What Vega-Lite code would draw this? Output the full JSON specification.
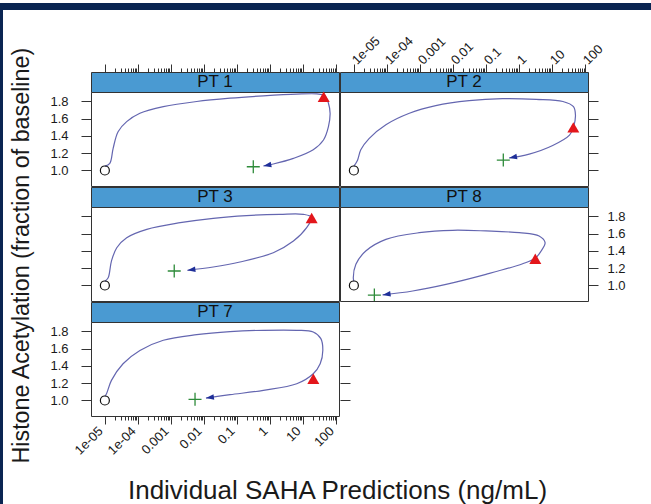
{
  "$schema": "https://vega.github.io/schema/vega-lite/v6.json",
  "background": "white",
  "padding": 0,
  "spacing": 0,
  "config": {
    "view": {"stroke": null},
    "font": "Liberation Sans",
    "title": {"font": "Liberation Sans", "fontWeight": "normal", "color": "#1a1a1a"},
    "axis": {
      "labelFont": "Liberation Sans",
      "titleFont": "Liberation Sans",
      "domain": false,
      "grid": false,
      "tickColor": "#333333",
      "tickWidth": 1,
      "labelColor": "#1a1a1a",
      "labelFontSize": 13,
      "titleColor": "#1a1a1a",
      "titleFontWeight": "normal",
      "labelOverlap": false,
      "labelFlush": false
    }
  },
  "datasets": {
    "curve": [
      {"pt": "PT 1", "i": 0, "conc": 0.00001, "acet": 1.05},
      {"pt": "PT 1", "i": 1, "conc": 0.0000141, "acet": 1.083},
      {"pt": "PT 1", "i": 2, "conc": 0.0000178, "acet": 1.257},
      {"pt": "PT 1", "i": 3, "conc": 0.0000251, "acet": 1.45},
      {"pt": "PT 1", "i": 4, "conc": 0.0000457, "acet": 1.566},
      {"pt": "PT 1", "i": 5, "conc": 0.000115, "acet": 1.663},
      {"pt": "PT 1", "i": 6, "conc": 0.000589, "acet": 1.74},
      {"pt": "PT 1", "i": 7, "conc": 0.00603, "acet": 1.8},
      {"pt": "PT 1", "i": 8, "conc": 0.0617, "acet": 1.838},
      {"pt": "PT 1", "i": 9, "conc": 0.631, "acet": 1.865},
      {"pt": "PT 1", "i": 10, "conc": 6.46, "acet": 1.885},
      {"pt": "PT 1", "i": 11, "conc": 26.3, "acet": 1.888},
      {"pt": "PT 1", "i": 12, "conc": 44.7, "acet": 1.87},
      {"pt": "PT 1", "i": 13, "conc": 58.9, "acet": 1.78},
      {"pt": "PT 1", "i": 14, "conc": 66.1, "acet": 1.663},
      {"pt": "PT 1", "i": 15, "conc": 58.9, "acet": 1.508},
      {"pt": "PT 1", "i": 16, "conc": 41.7, "acet": 1.353},
      {"pt": "PT 1", "i": 17, "conc": 20.4, "acet": 1.24},
      {"pt": "PT 1", "i": 18, "conc": 5.13, "acet": 1.14},
      {"pt": "PT 1", "i": 19, "conc": 1.26, "acet": 1.075},
      {"pt": "PT 1", "i": 20, "conc": 0.631, "acet": 1.052},

      {"pt": "PT 2", "i": 0, "conc": 0.00001, "acet": 1.05},
      {"pt": "PT 2", "i": 1, "conc": 0.0000129, "acet": 1.12},
      {"pt": "PT 2", "i": 2, "conc": 0.0000162, "acet": 1.24},
      {"pt": "PT 2", "i": 3, "conc": 0.0000288, "acet": 1.37},
      {"pt": "PT 2", "i": 4, "conc": 0.0000933, "acet": 1.53},
      {"pt": "PT 2", "i": 5, "conc": 0.000479, "acet": 1.663},
      {"pt": "PT 2", "i": 6, "conc": 0.00302, "acet": 1.752},
      {"pt": "PT 2", "i": 7, "conc": 0.0309, "acet": 1.81},
      {"pt": "PT 2", "i": 8, "conc": 0.316, "acet": 1.833},
      {"pt": "PT 2", "i": 9, "conc": 3.31, "acet": 1.825},
      {"pt": "PT 2", "i": 10, "conc": 21.4, "acet": 1.8},
      {"pt": "PT 2", "i": 11, "conc": 44.7, "acet": 1.74},
      {"pt": "PT 2", "i": 12, "conc": 51.3, "acet": 1.64},
      {"pt": "PT 2", "i": 13, "conc": 44.7, "acet": 1.5},
      {"pt": "PT 2", "i": 14, "conc": 33.9, "acet": 1.41},
      {"pt": "PT 2", "i": 15, "conc": 10.5, "acet": 1.29},
      {"pt": "PT 2", "i": 16, "conc": 2.04, "acet": 1.19},
      {"pt": "PT 2", "i": 17, "conc": 0.501, "acet": 1.145},

      {"pt": "PT 3", "i": 0, "conc": 0.00001, "acet": 1.05},
      {"pt": "PT 3", "i": 1, "conc": 0.0000126, "acet": 1.09},
      {"pt": "PT 3", "i": 2, "conc": 0.0000158, "acet": 1.283},
      {"pt": "PT 3", "i": 3, "conc": 0.0000229, "acet": 1.438},
      {"pt": "PT 3", "i": 4, "conc": 0.0000457, "acet": 1.554},
      {"pt": "PT 3", "i": 5, "conc": 0.000186, "acet": 1.651},
      {"pt": "PT 3", "i": 6, "conc": 0.00191, "acet": 1.728},
      {"pt": "PT 3", "i": 7, "conc": 0.0191, "acet": 1.779},
      {"pt": "PT 3", "i": 8, "conc": 0.195, "acet": 1.81},
      {"pt": "PT 3", "i": 9, "conc": 2.0, "acet": 1.825},
      {"pt": "PT 3", "i": 10, "conc": 10.2, "acet": 1.825},
      {"pt": "PT 3", "i": 11, "conc": 18.2, "acet": 1.79},
      {"pt": "PT 3", "i": 12, "conc": 12.9, "acet": 1.67},
      {"pt": "PT 3", "i": 13, "conc": 5.13, "acet": 1.515},
      {"pt": "PT 3", "i": 14, "conc": 1.26, "acet": 1.38},
      {"pt": "PT 3", "i": 15, "conc": 0.123, "acet": 1.272},
      {"pt": "PT 3", "i": 16, "conc": 0.0191, "acet": 1.214},
      {"pt": "PT 3", "i": 17, "conc": 0.00316, "acet": 1.176},

      {"pt": "PT 8", "i": 0, "conc": 0.00001, "acet": 1.05},
      {"pt": "PT 8", "i": 1, "conc": 0.0000096, "acet": 1.09},
      {"pt": "PT 8", "i": 2, "conc": 0.0000115, "acet": 1.245},
      {"pt": "PT 8", "i": 3, "conc": 0.0000229, "acet": 1.4},
      {"pt": "PT 8", "i": 4, "conc": 0.0000933, "acet": 1.535},
      {"pt": "PT 8", "i": 5, "conc": 0.000955, "acet": 1.612},
      {"pt": "PT 8", "i": 6, "conc": 0.00977, "acet": 1.64},
      {"pt": "PT 8", "i": 7, "conc": 0.1, "acet": 1.632},
      {"pt": "PT 8", "i": 8, "conc": 1.02, "acet": 1.612},
      {"pt": "PT 8", "i": 9, "conc": 4.07, "acet": 1.574},
      {"pt": "PT 8", "i": 10, "conc": 6.17, "acet": 1.496},
      {"pt": "PT 8", "i": 11, "conc": 4.68, "acet": 1.4},
      {"pt": "PT 8", "i": 12, "conc": 3.09, "acet": 1.315},
      {"pt": "PT 8", "i": 13, "conc": 1.29, "acet": 1.252},
      {"pt": "PT 8", "i": 14, "conc": 0.1, "acet": 1.129},
      {"pt": "PT 8", "i": 15, "conc": 0.00617, "acet": 1.013},
      {"pt": "PT 8", "i": 16, "conc": 0.000603, "acet": 0.936},
      {"pt": "PT 8", "i": 17, "conc": 0.0000741, "acet": 0.89},

      {"pt": "PT 7", "i": 0, "conc": 0.00001, "acet": 1.05},
      {"pt": "PT 7", "i": 1, "conc": 0.0000112, "acet": 1.078},
      {"pt": "PT 7", "i": 2, "conc": 0.0000158, "acet": 1.233},
      {"pt": "PT 7", "i": 3, "conc": 0.0000355, "acet": 1.426},
      {"pt": "PT 7", "i": 4, "conc": 0.000115, "acet": 1.58},
      {"pt": "PT 7", "i": 5, "conc": 0.000589, "acet": 1.698},
      {"pt": "PT 7", "i": 6, "conc": 0.00603, "acet": 1.763},
      {"pt": "PT 7", "i": 7, "conc": 0.0617, "acet": 1.798},
      {"pt": "PT 7", "i": 8, "conc": 0.631, "acet": 1.814},
      {"pt": "PT 7", "i": 9, "conc": 6.46, "acet": 1.814},
      {"pt": "PT 7", "i": 10, "conc": 20.4, "acet": 1.794},
      {"pt": "PT 7", "i": 11, "conc": 34.7, "acet": 1.717},
      {"pt": "PT 7", "i": 12, "conc": 39.8, "acet": 1.58},
      {"pt": "PT 7", "i": 13, "conc": 33.1, "acet": 1.426},
      {"pt": "PT 7", "i": 14, "conc": 20.4, "acet": 1.31},
      {"pt": "PT 7", "i": 15, "conc": 6.46, "acet": 1.194},
      {"pt": "PT 7", "i": 16, "conc": 0.631, "acet": 1.117},
      {"pt": "PT 7", "i": 17, "conc": 0.0617, "acet": 1.067},
      {"pt": "PT 7", "i": 18, "conc": 0.0115, "acet": 1.028}
    ],
    "marks": [
      {"pt": "PT 1", "kind": "start", "conc": 0.00001, "acet": 1.0},
      {"pt": "PT 1", "kind": "peak", "conc": 42.3, "acet": 1.855},
      {"pt": "PT 1", "kind": "end", "conc": 0.312, "acet": 1.043},
      {"pt": "PT 1", "kind": "arrow", "conc": 0.631, "acet": 1.052},
      {"pt": "PT 2", "kind": "start", "conc": 0.00001, "acet": 1.0},
      {"pt": "PT 2", "kind": "peak", "conc": 44.2, "acet": 1.5},
      {"pt": "PT 2", "kind": "end", "conc": 0.335, "acet": 1.121},
      {"pt": "PT 2", "kind": "arrow", "conc": 0.501, "acet": 1.145},
      {"pt": "PT 3", "kind": "start", "conc": 0.00001, "acet": 1.0},
      {"pt": "PT 3", "kind": "peak", "conc": 18.3, "acet": 1.782},
      {"pt": "PT 3", "kind": "end", "conc": 0.00126, "acet": 1.168},
      {"pt": "PT 3", "kind": "arrow", "conc": 0.00316, "acet": 1.176},
      {"pt": "PT 8", "kind": "start", "conc": 0.00001, "acet": 1.0},
      {"pt": "PT 8", "kind": "peak", "conc": 3.12, "acet": 1.31},
      {"pt": "PT 8", "kind": "end", "conc": 0.0000417, "acet": 0.889},
      {"pt": "PT 8", "kind": "arrow", "conc": 0.0000741, "acet": 0.89},
      {"pt": "PT 7", "kind": "start", "conc": 0.00001, "acet": 1.0},
      {"pt": "PT 7", "kind": "peak", "conc": 20.5, "acet": 1.252},
      {"pt": "PT 7", "kind": "end", "conc": 0.00537, "acet": 1.013},
      {"pt": "PT 7", "kind": "arrow", "conc": 0.0115, "acet": 1.028}
    ]
  },
  "hconcat": [
    {
      "width": 3, "height": 504,
      "view": {"fill": "#0a2552", "stroke": null},
      "data": {"values": [{}]},
      "mark": {"type": "text"},
      "encoding": {"text": {"value": ""}}
    },
    {
      "spacing": 21,
      "vconcat": [
        {
          "width": 648, "height": 7,
          "view": {"fill": "#0a2552", "stroke": null},
          "data": {"values": [{}]},
          "mark": {"type": "text"},
          "encoding": {"text": {"value": ""}}
        },
        {
          "spacing": 6,
          "hconcat": [
            {
              "width": 1, "height": 1,
              "data": {"values": [{}]},
              "mark": {"type": "text"},
              "encoding": {"text": {"value": ""}}
            },
            {
              "title": {"text": "Histone Acetylation (fraction of baseline)", "orient": "left", "anchor": "middle", "fontSize": 23.3, "offset": 15, "dx": 13},
              "vconcat": [
                {
                  "title": {"text": "Individual SAHA Predictions (ng/mL)", "orient": "bottom", "anchor": "middle", "fontSize": 26, "offset": 20},
                  "columns": 2,
                  "spacing": {"row": -2, "column": -8},
                  "concat": [
                    {
                      "spacing": 0, "bounds": "flush",
                      "vconcat": [
                        {
                          "width": 248, "height": 20,
                          "view": {"fill": "#4a9ad2", "stroke": "#333333"},
                          "data": {"values": [{"label": "PT 1"}]},
                          "mark": {"type": "text", "fontSize": 17, "font": "Liberation Sans", "color": "#111111", "baseline": "middle", "align": "center"},
                          "encoding": {
                            "text": {"field": "label"},
                            "x": {"datum": 0.0216, "type": "quantitative", "scale": {"type": "log", "domain": [0.0000038, 123], "nice": false},
                              "axis": {"orient": "top", "title": null, "labels": false,
                                "values": [0.00001,0.00002,0.00003,0.00004,0.00005,0.00006,0.00007,0.00008,0.00009,0.0001,0.0002,0.0003,0.0004,0.0005,0.0006,0.0007,0.0008,0.0009,0.001,0.002,0.003,0.004,0.005,0.006,0.007,0.008,0.009,0.01,0.02,0.03,0.04,0.05,0.06,0.07,0.08,0.09,0.1,0.2,0.3,0.4,0.5,0.6,0.7,0.8,0.9,1,2,3,4,5,6,7,8,9,10,20,30,40,50,60,70,80,90,100],
                                "tickSize": {"condition": {"test": "abs(log(datum.value)/LN10 - round(log(datum.value)/LN10)) < 0.001", "value": 8}, "value": 4}}}
                          }
                        },
                        {
                          "width": 248, "height": 94,
                          "view": {"fill": "white", "stroke": "#333333"},
                          "encoding": {
                            "x": {"field": "conc", "type": "quantitative", "scale": {"type": "log", "domain": [0.0000038, 123], "nice": false}, "axis": null},
                            "y": {"field": "acet", "type": "quantitative", "scale": {"domain": [0.82, 1.91], "nice": false, "zero": false},
                              "axis": {"orient": "left", "title": null, "values": [1, 1.2, 1.4, 1.6, 1.8], "format": ".1f", "tickSize": 10, "labelPadding": 13}}
                          },
                          "layer": [
                            {"data": {"name": "curve"}, "transform": [{"filter": "datum.pt == 'PT 1'"}], "mark": {"type": "line", "interpolate": "catmull-rom", "color": "#6466b0", "strokeWidth": 1.2}, "encoding": {"order": {"field": "i", "type": "quantitative"}}},
                            {"data": {"name": "marks"}, "transform": [{"filter": "datum.pt == 'PT 1' && datum.kind == 'start'"}], "mark": {"type": "point", "shape": "circle", "filled": false, "size": 81, "color": "#111111", "strokeWidth": 1.2, "opacity": 1}},
                            {"data": {"name": "marks"}, "transform": [{"filter": "datum.pt == 'PT 1' && datum.kind == 'peak'"}], "mark": {"type": "point", "shape": "triangle-up", "filled": true, "size": 144, "color": "#e3161b", "opacity": 1}},
                            {"data": {"name": "marks"}, "transform": [{"filter": "datum.pt == 'PT 1' && datum.kind == 'end'"}], "mark": {"type": "point", "shape": "M-1,0H1M0,-1V1", "filled": false, "size": 169, "color": "#2e8b3a", "strokeWidth": 1.3, "opacity": 1}},
                            {"data": {"name": "marks"}, "transform": [{"filter": "datum.pt == 'PT 1' && datum.kind == 'arrow'"}], "mark": {"type": "point", "shape": "M0,0L-1,-0.35L-1,0.35Z", "filled": true, "size": 256, "angle": 169, "color": "#1f2f99", "opacity": 1}}
                          ]
                        }
                      ]
                    },
                    {
                      "spacing": 0, "bounds": "flush",
                      "vconcat": [
                        {
                          "width": 248, "height": 20,
                          "view": {"fill": "#4a9ad2", "stroke": "#333333"},
                          "data": {"values": [{"label": "PT 2"}]},
                          "mark": {"type": "text", "fontSize": 17, "font": "Liberation Sans", "color": "#111111", "baseline": "middle", "align": "center"},
                          "encoding": {
                            "text": {"field": "label"},
                            "x": {"datum": 0.0216, "type": "quantitative", "scale": {"type": "log", "domain": [0.0000038, 123], "nice": false},
                              "axis": {"orient": "top", "title": null, "labels": true, "labelAngle": -45, "labelAlign": "left", "labelBaseline": "middle", "labelPadding": 2,
                                "labelExpr": "abs(log(datum.value)/LN10 - round(log(datum.value)/LN10)) > 0.001 ? '' : (datum.value < 0.0005 ? '1e-0' + (-round(log(datum.value)/LN10)) : format(datum.value, '~g'))",
                                "values": [0.00001,0.00002,0.00003,0.00004,0.00005,0.00006,0.00007,0.00008,0.00009,0.0001,0.0002,0.0003,0.0004,0.0005,0.0006,0.0007,0.0008,0.0009,0.001,0.002,0.003,0.004,0.005,0.006,0.007,0.008,0.009,0.01,0.02,0.03,0.04,0.05,0.06,0.07,0.08,0.09,0.1,0.2,0.3,0.4,0.5,0.6,0.7,0.8,0.9,1,2,3,4,5,6,7,8,9,10,20,30,40,50,60,70,80,90,100],
                                "tickSize": {"condition": {"test": "abs(log(datum.value)/LN10 - round(log(datum.value)/LN10)) < 0.001", "value": 8}, "value": 4}}}
                          }
                        },
                        {
                          "width": 248, "height": 94,
                          "view": {"fill": "white", "stroke": "#333333"},
                          "encoding": {
                            "x": {"field": "conc", "type": "quantitative", "scale": {"type": "log", "domain": [0.0000038, 123], "nice": false}, "axis": null},
                            "y": {"field": "acet", "type": "quantitative", "scale": {"domain": [0.82, 1.91], "nice": false, "zero": false},
                              "axis": {"orient": "right", "title": null, "values": [1, 1.2, 1.4, 1.6, 1.8], "labels": false, "tickSize": 10}}
                          },
                          "layer": [
                            {"data": {"name": "curve"}, "transform": [{"filter": "datum.pt == 'PT 2'"}], "mark": {"type": "line", "interpolate": "catmull-rom", "color": "#6466b0", "strokeWidth": 1.2}, "encoding": {"order": {"field": "i", "type": "quantitative"}}},
                            {"data": {"name": "marks"}, "transform": [{"filter": "datum.pt == 'PT 2' && datum.kind == 'start'"}], "mark": {"type": "point", "shape": "circle", "filled": false, "size": 81, "color": "#111111", "strokeWidth": 1.2, "opacity": 1}},
                            {"data": {"name": "marks"}, "transform": [{"filter": "datum.pt == 'PT 2' && datum.kind == 'peak'"}], "mark": {"type": "point", "shape": "triangle-up", "filled": true, "size": 144, "color": "#e3161b", "opacity": 1}},
                            {"data": {"name": "marks"}, "transform": [{"filter": "datum.pt == 'PT 2' && datum.kind == 'end'"}], "mark": {"type": "point", "shape": "M-1,0H1M0,-1V1", "filled": false, "size": 169, "color": "#2e8b3a", "strokeWidth": 1.3, "opacity": 1}},
                            {"data": {"name": "marks"}, "transform": [{"filter": "datum.pt == 'PT 2' && datum.kind == 'arrow'"}], "mark": {"type": "point", "shape": "M0,0L-1,-0.35L-1,0.35Z", "filled": true, "size": 256, "angle": 169, "color": "#1f2f99", "opacity": 1}}
                          ]
                        }
                      ]
                    },
                    {
                      "spacing": 0, "bounds": "flush",
                      "vconcat": [
                        {
                          "width": 248, "height": 20,
                          "view": {"fill": "#4a9ad2", "stroke": "#333333"},
                          "data": {"values": [{"label": "PT 3"}]},
                          "mark": {"type": "text", "fontSize": 17, "font": "Liberation Sans", "color": "#111111", "baseline": "middle", "align": "center"},
                          "encoding": {
                            "text": {"field": "label"},
                            "x": {"datum": 0.0216, "type": "quantitative", "scale": {"type": "log", "domain": [0.0000038, 123], "nice": false}, "axis": null}
                          }
                        },
                        {
                          "width": 248, "height": 94,
                          "view": {"fill": "white", "stroke": "#333333"},
                          "encoding": {
                            "x": {"field": "conc", "type": "quantitative", "scale": {"type": "log", "domain": [0.0000038, 123], "nice": false}, "axis": null},
                            "y": {"field": "acet", "type": "quantitative", "scale": {"domain": [0.82, 1.91], "nice": false, "zero": false},
                              "axis": {"orient": "left", "title": null, "values": [1, 1.2, 1.4, 1.6, 1.8], "labels": false, "tickSize": 10}}
                          },
                          "layer": [
                            {"data": {"name": "curve"}, "transform": [{"filter": "datum.pt == 'PT 3'"}], "mark": {"type": "line", "interpolate": "catmull-rom", "color": "#6466b0", "strokeWidth": 1.2, "clip": true}, "encoding": {"order": {"field": "i", "type": "quantitative"}}},
                            {"data": {"name": "marks"}, "transform": [{"filter": "datum.pt == 'PT 3' && datum.kind == 'start'"}], "mark": {"type": "point", "shape": "circle", "filled": false, "size": 81, "color": "#111111", "strokeWidth": 1.2, "opacity": 1, "clip": true}},
                            {"data": {"name": "marks"}, "transform": [{"filter": "datum.pt == 'PT 3' && datum.kind == 'peak'"}], "mark": {"type": "point", "shape": "triangle-up", "filled": true, "size": 144, "color": "#e3161b", "opacity": 1}},
                            {"data": {"name": "marks"}, "transform": [{"filter": "datum.pt == 'PT 3' && datum.kind == 'end'"}], "mark": {"type": "point", "shape": "M-1,0H1M0,-1V1", "filled": false, "size": 169, "color": "#2e8b3a", "strokeWidth": 1.3, "opacity": 1, "clip": true}},
                            {"data": {"name": "marks"}, "transform": [{"filter": "datum.pt == 'PT 3' && datum.kind == 'arrow'"}], "mark": {"type": "point", "shape": "M0,0L-1,-0.35L-1,0.35Z", "filled": true, "size": 256, "angle": 173, "color": "#1f2f99", "opacity": 1, "clip": true}}
                          ]
                        }
                      ]
                    },
                    {
                      "spacing": 0, "bounds": "flush",
                      "vconcat": [
                        {
                          "width": 248, "height": 20,
                          "view": {"fill": "#4a9ad2", "stroke": "#333333"},
                          "data": {"values": [{"label": "PT 8"}]},
                          "mark": {"type": "text", "fontSize": 17, "font": "Liberation Sans", "color": "#111111", "baseline": "middle", "align": "center"},
                          "encoding": {
                            "text": {"field": "label"},
                            "x": {"datum": 0.0216, "type": "quantitative", "scale": {"type": "log", "domain": [0.0000038, 123], "nice": false}, "axis": null}
                          }
                        },
                        {
                          "width": 248, "height": 94,
                          "view": {"fill": "white", "stroke": "#333333"},
                          "encoding": {
                            "x": {"field": "conc", "type": "quantitative", "scale": {"type": "log", "domain": [0.0000038, 123], "nice": false}, "axis": null},
                            "y": {"field": "acet", "type": "quantitative", "scale": {"domain": [0.82, 1.91], "nice": false, "zero": false},
                              "axis": {"orient": "right", "title": null, "values": [1, 1.2, 1.4, 1.6, 1.8], "format": ".1f", "tickSize": 10, "labelPadding": 9}}
                          },
                          "layer": [
                            {"data": {"name": "curve"}, "transform": [{"filter": "datum.pt == 'PT 8'"}], "mark": {"type": "line", "interpolate": "catmull-rom", "color": "#6466b0", "strokeWidth": 1.2, "clip": true}, "encoding": {"order": {"field": "i", "type": "quantitative"}}},
                            {"data": {"name": "marks"}, "transform": [{"filter": "datum.pt == 'PT 8' && datum.kind == 'start'"}], "mark": {"type": "point", "shape": "circle", "filled": false, "size": 81, "color": "#111111", "strokeWidth": 1.2, "opacity": 1, "clip": true}},
                            {"data": {"name": "marks"}, "transform": [{"filter": "datum.pt == 'PT 8' && datum.kind == 'peak'"}], "mark": {"type": "point", "shape": "triangle-up", "filled": true, "size": 144, "color": "#e3161b", "opacity": 1, "clip": true}},
                            {"data": {"name": "marks"}, "transform": [{"filter": "datum.pt == 'PT 8' && datum.kind == 'end'"}], "mark": {"type": "point", "shape": "M-1,0H1M0,-1V1", "filled": false, "size": 169, "color": "#2e8b3a", "strokeWidth": 1.3, "opacity": 1, "clip": true}},
                            {"data": {"name": "marks"}, "transform": [{"filter": "datum.pt == 'PT 8' && datum.kind == 'arrow'"}], "mark": {"type": "point", "shape": "M0,0L-1,-0.35L-1,0.35Z", "filled": true, "size": 256, "angle": 172, "color": "#1f2f99", "opacity": 1, "clip": true}}
                          ]
                        }
                      ]
                    },
                    {
                      "spacing": 0, "bounds": "flush",
                      "vconcat": [
                        {
                          "width": 248, "height": 20,
                          "view": {"fill": "#4a9ad2", "stroke": "#333333"},
                          "data": {"values": [{"label": "PT 7"}]},
                          "mark": {"type": "text", "fontSize": 17, "font": "Liberation Sans", "color": "#111111", "baseline": "middle", "align": "center"},
                          "encoding": {
                            "text": {"field": "label"},
                            "x": {"datum": 0.0216, "type": "quantitative", "scale": {"type": "log", "domain": [0.0000038, 123], "nice": false}, "axis": null}
                          }
                        },
                        {
                          "width": 248, "height": 94,
                          "view": {"fill": "white", "stroke": "#333333"},
                          "encoding": {
                            "x": {"field": "conc", "type": "quantitative", "scale": {"type": "log", "domain": [0.0000038, 123], "nice": false},
                              "axis": {"orient": "bottom", "title": null, "labels": true, "labelAngle": -45, "labelAlign": "right", "labelBaseline": "middle", "labelPadding": 4.6, "labelOffset": -4.6,
                                "labelExpr": "abs(log(datum.value)/LN10 - round(log(datum.value)/LN10)) > 0.001 ? '' : (datum.value < 0.0005 ? '1e-0' + (-round(log(datum.value)/LN10)) : format(datum.value, '~g'))",
                                "values": [0.00001,0.00002,0.00003,0.00004,0.00005,0.00006,0.00007,0.00008,0.00009,0.0001,0.0002,0.0003,0.0004,0.0005,0.0006,0.0007,0.0008,0.0009,0.001,0.002,0.003,0.004,0.005,0.006,0.007,0.008,0.009,0.01,0.02,0.03,0.04,0.05,0.06,0.07,0.08,0.09,0.1,0.2,0.3,0.4,0.5,0.6,0.7,0.8,0.9,1,2,3,4,5,6,7,8,9,10,20,30,40,50,60,70,80,90,100],
                                "tickSize": {"condition": {"test": "abs(log(datum.value)/LN10 - round(log(datum.value)/LN10)) < 0.001", "value": 8}, "value": 4}}},
                            "y": {"field": "acet", "type": "quantitative", "scale": {"domain": [0.82, 1.91], "nice": false, "zero": false},
                              "axis": {"orient": "left", "title": null, "values": [1, 1.2, 1.4, 1.6, 1.8], "format": ".1f", "tickSize": 10, "labelPadding": 13}}
                          },
                          "layer": [
                            {"data": {"name": "curve"}, "transform": [{"filter": "datum.pt == 'PT 7'"}], "mark": {"type": "line", "interpolate": "catmull-rom", "color": "#6466b0", "strokeWidth": 1.2}, "encoding": {"order": {"field": "i", "type": "quantitative"}}},
                            {"data": {"name": "marks"}, "transform": [{"filter": "datum.pt == 'PT 7' && datum.kind == 'start'"}], "mark": {"type": "point", "shape": "circle", "filled": false, "size": 81, "color": "#111111", "strokeWidth": 1.2, "opacity": 1}},
                            {"data": {"name": "marks"}, "transform": [{"filter": "datum.pt == 'PT 7' && datum.kind == 'peak'"}], "mark": {"type": "point", "shape": "triangle-up", "filled": true, "size": 144, "color": "#e3161b", "opacity": 1}},
                            {"data": {"name": "marks"}, "transform": [{"filter": "datum.pt == 'PT 7' && datum.kind == 'end'"}], "mark": {"type": "point", "shape": "M-1,0H1M0,-1V1", "filled": false, "size": 169, "color": "#2e8b3a", "strokeWidth": 1.3, "opacity": 1}},
                            {"data": {"name": "marks"}, "transform": [{"filter": "datum.pt == 'PT 7' && datum.kind == 'arrow'"}], "mark": {"type": "point", "shape": "M0,0L-1,-0.35L-1,0.35Z", "filled": true, "size": 256, "angle": 172, "color": "#1f2f99", "opacity": 1}}
                          ]
                        }
                      ]
                    },
                    {
                      "width": 248, "height": 114,
                      "data": {"name": "marks"},
                      "transform": [{"filter": "datum.pt == 'PT 7' && datum.kind == 'start'"}],
                      "mark": {"type": "point", "opacity": 0},
                      "encoding": {
                        "y": {"field": "acet", "type": "quantitative", "scale": {"domain": [0.82, 2.142], "nice": false, "zero": false},
                          "axis": {"orient": "left", "title": null, "values": [1, 1.2, 1.4, 1.6, 1.8], "labels": false, "tickSize": 10, "offset": -10}}
                      }
                    }
                  ]
                }
              ]
            }
          ]
        }
      ]
    }
  ]
}
